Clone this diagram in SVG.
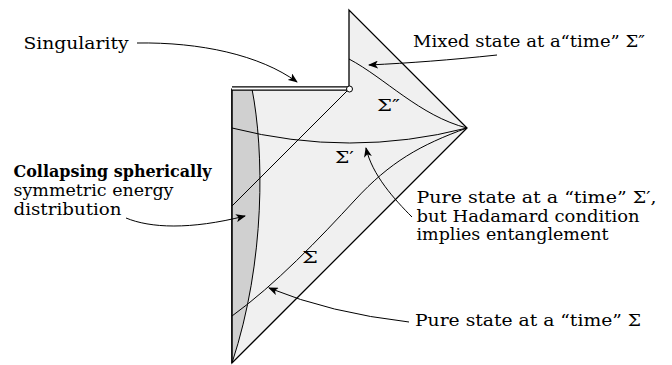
<svg xmlns="http://www.w3.org/2000/svg" width="672" height="365" viewBox="0 0 672 365" font-family="'DejaVu Serif', 'Liberation Serif', serif">
<style>
text{font-family:"DejaVu Serif","Liberation Serif",serif;font-size:16px;fill:#000}
.b{font-weight:bold}
.ln{fill:none;stroke:#000;stroke-width:1}
.ar{fill:none;stroke:#000;stroke-width:1;marker-end:url(#ah)}
</style>
<defs>
<marker id="ah" viewBox="0 0 10 8" refX="9" refY="4" markerWidth="10" markerHeight="8" markerUnits="userSpaceOnUse" orient="auto">
<path d="M0,0 L10,4 L0,8 L2.5,4 Z" fill="#000"/>
</marker>
</defs>
<g id="spacetime">
<path d="M232,89 L349,89 L349,10 L467,128 L232,363 Z" fill="#f0f0f0" stroke="#000" stroke-width="1.3"/>
<path d="M232,89 L252,89 C264,150 266,260 232,363 Z" fill="#d0d0d0" stroke="#000" stroke-width="1"/>
<path class="ln" d="M232,89 L232,363"/>
<path class="ln" d="M349,89 L232,206"/>
<path class="ln" d="M349,59 C385,78 420,116 467,128"/>
<path class="ln" d="M232,128 Q350,158 467,128"/>
<path class="ln" d="M467,128 C420,145 390,162 355,200 S275,285 232,316"/>
<line x1="232" y1="88.5" x2="349" y2="88.5" stroke="#000" stroke-width="4.5"/>
<line x1="232" y1="88.5" x2="347" y2="88.5" stroke="#fff" stroke-width="1.8"/>
<circle cx="349.5" cy="89" r="3" fill="#fff" stroke="#000" stroke-width="1"/>
<text x="377" y="111" textLength="23" lengthAdjust="spacingAndGlyphs">Σ″</text>
<text x="335" y="163" textLength="19" lengthAdjust="spacingAndGlyphs">Σ′</text>
<text x="302" y="263" textLength="16" lengthAdjust="spacingAndGlyphs">Σ</text>
</g>
<g id="connectors">
<path class="ar" d="M137,43 C200,42 260,55 297,82"/>
<path class="ar" d="M497,55 C450,60 410,63 369,65"/>
<path class="ar" d="M126,218 C150,228 190,230 245,216"/>
<path class="ar" d="M412,217 C395,200 372,175 366,148"/>
<path class="ar" d="M409,322 Q330,313 269,288"/>
</g>
<g id="label-singularity"><text x="23.5" y="49" textLength="105" lengthAdjust="spacingAndGlyphs">Singularity</text></g>
<g id="label-mixed"><text x="413" y="46.5" textLength="232" lengthAdjust="spacingAndGlyphs">Mixed state at a“time” Σ″</text></g>
<g id="label-collapsing">
<text x="13.5" y="177" class="b" textLength="198" lengthAdjust="spacingAndGlyphs">Collapsing spherically</text>
<text x="13.5" y="196" textLength="160" lengthAdjust="spacingAndGlyphs">symmetric energy</text>
<text x="13.5" y="214.5" textLength="108" lengthAdjust="spacingAndGlyphs">distribution</text>
</g>
<g id="label-pure-prime">
<text x="416.5" y="203" textLength="240" lengthAdjust="spacingAndGlyphs">Pure state at a “time” Σ′,</text>
<text x="416.5" y="221.5" textLength="223" lengthAdjust="spacingAndGlyphs">but Hadamard condition</text>
<text x="416.5" y="240" textLength="192" lengthAdjust="spacingAndGlyphs">implies entanglement</text>
</g>
<g id="label-pure"><text x="415" y="326" textLength="226" lengthAdjust="spacingAndGlyphs">Pure state at a “time” Σ</text></g>
</svg>
